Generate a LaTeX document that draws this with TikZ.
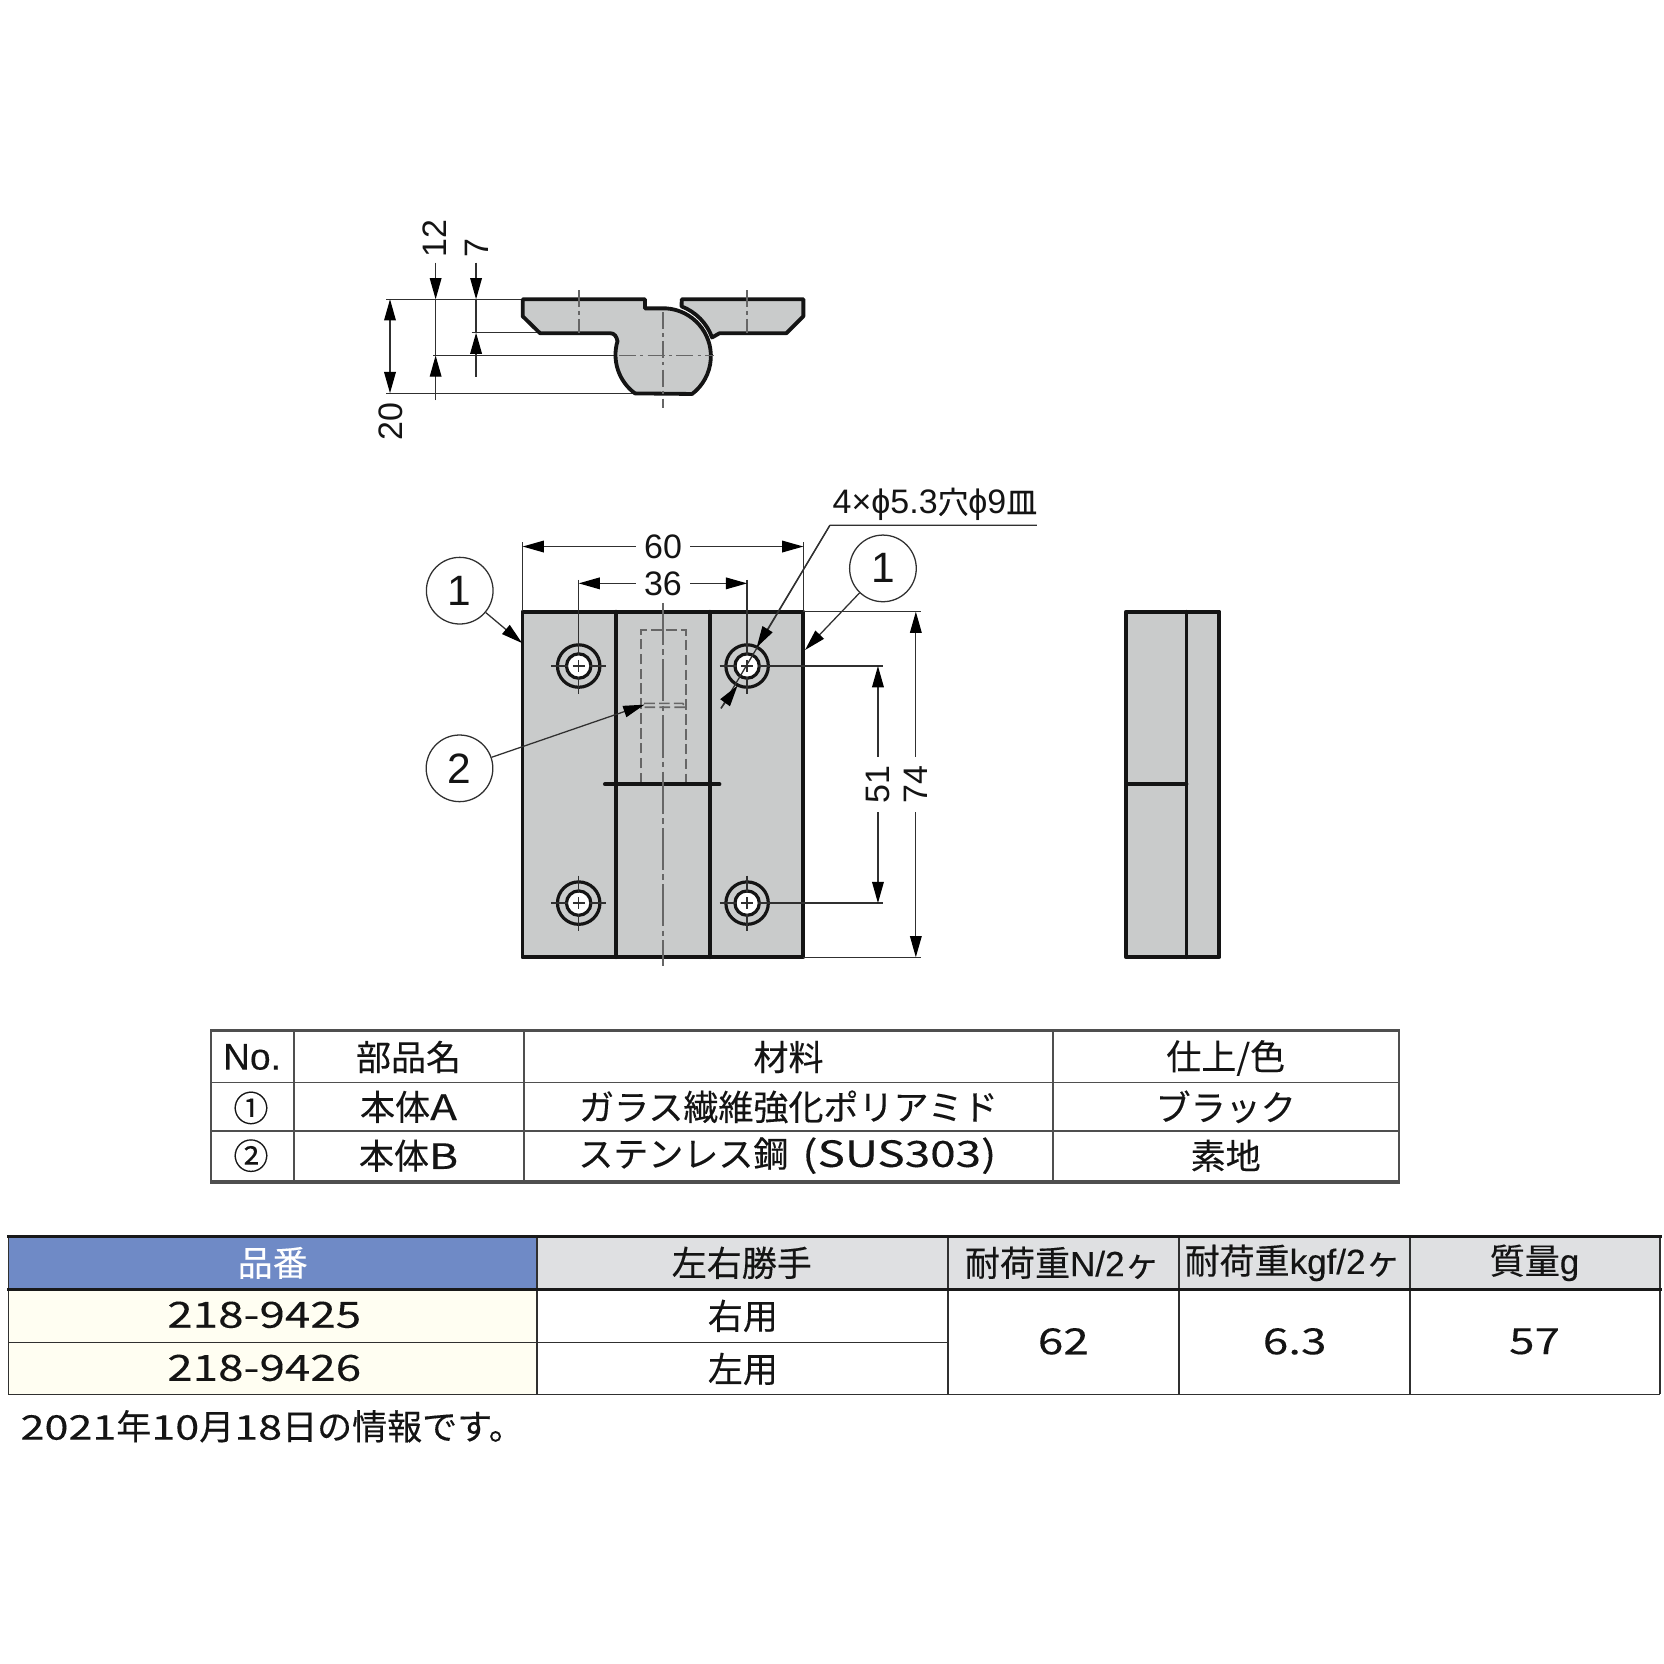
\documentclass[tikz,border=0pt]{standalone}
\usepackage{fontspec}
\usetikzlibrary{arrows.meta}
\setmainfont[FakeBold=0.25]{Noto Sans CJK JP}
\newfontfamily\lat{Liberation Sans}
\newfontfamily\latb[FakeBold=0.25]{Liberation Sans}
\newfontfamily\widelat[FakeStretch=1.27,FakeBold=0.15]{Noto Sans CJK JP}
\definecolor{partgray}{HTML}{C9CBCB}
\definecolor{ink}{HTML}{141414}
\definecolor{thinline}{HTML}{303030}
\definecolor{cline}{HTML}{666666}
\definecolor{hdrblue}{HTML}{6F8AC6}
\definecolor{hdrgray}{HTML}{DFE0E2}
\definecolor{cream}{HTML}{FFFEF2}
\tikzset{
  x=0.5pt,y=-0.5pt,
  part/.style={draw=ink,fill=partgray,line width=1.8pt,line join=round},
  outline/.style={draw=ink,line width=1.8pt,line cap=round},
  thinl/.style={draw=thinline,line width=0.6pt},
  centerl/.style={draw=cline,line width=0.8pt,dash pattern=on 8pt off 2pt on 1.6pt off 2pt},
  centerlong/.style={draw=cline,line width=0.9pt,dash pattern=on 20pt off 2pt on 2.5pt off 2pt},
  hidden/.style={draw=cline,line width=0.8pt,dash pattern=on 5pt off 2pt},
  tip/.style={-{Triangle[length=10pt,width=5.5pt,color=black]}},
  tips/.style={{Triangle[length=10pt,width=5.5pt,color=black]}-{Triangle[length=10pt,width=5.5pt,color=black]}},
  dimtxt/.style={font=\lat\fontsize{16pt}{18pt}\selectfont,text=ink,inner sep=3pt},
  balloon/.style={circle,draw=thinline,line width=0.6pt,minimum size=31.4pt,inner sep=0pt,fill=white,font=\lat\fontsize{20pt}{22pt}\selectfont,text=ink},
  tbl/.style={font=\fontsize{16.5pt}{18pt}\selectfont,text=ink,inner sep=0pt},
  widetbl/.style={font=\widelat\fontsize{17pt}{18pt}\selectfont,text=ink,inner sep=0pt},
  grid1/.style={draw=thinline!85,line width=0.9pt},
  heavy1/.style={draw=thinline!85,line width=1.8pt},
  grid2/.style={draw=thinline,line width=0.9pt},
  heavy2/.style={draw=black!90,line width=1.7pt},
}
\newcommand{\widenum}[1]{{\widelat\fontsize{16pt}{18pt}\selectfont #1}}
\begin{document}
\begin{tikzpicture}
\useasboundingbox[fill=white] (0,0) rectangle (1568,1568);

% ---------- top section view ----------
\draw[thinl] (364,282) -- (492.5,282);
\draw[thinl] (444.5,313.5) -- (508,313.5);
\draw[thinl] (408.4,335) -- (582,335);
\draw[thinl] (364,370.5) -- (598.4,370.5);
\coordinate (d20a) at (367.5,282); \coordinate (d20b) at (367.5,370.5);
\draw[thinl,tips] (d20a) -- (d20b);
\node[dimtxt,rotate=90] (l20) at (368,397) {20};
\coordinate (d12a) at (410.5,282); \coordinate (d12b) at (410.5,335);
\draw[thinl,tip] (410.5,247.5) -- (d12a);
\draw[thinl] (d12a) -- (d12b);
\draw[thinl,tip] (410.5,377) -- (d12b);
\node[dimtxt,rotate=90] (l12) at (410,225) {12};
\coordinate (d7a) at (448.6,282); \coordinate (d7b) at (448.6,313.5);
\draw[thinl,tip] (448.6,247.5) -- (d7a);
\draw[thinl] (d7a) -- (d7b);
\draw[thinl,tip] (448.6,355) -- (d7b);
\node[dimtxt,rotate=90] (l7) at (449,234) {7};

\path[part] (642.4,282) -- (757,282) -- (757,298) -- (741,314) -- (678,314) -- (671,318)
  arc[start angle=20,delta angle=49,radius=24.75pt] -- cycle;
\path[part] (492.5,282) -- (607.8,282) -- (607.8,290.6) -- (628,290.6)
  arc[start angle=86,delta angle=-138.6,radius=22.5pt] -- (598.4,370.7)
  arc[start angle=233.8,delta angle=-70.4,radius=22.5pt]
  .. controls (581,317) and (579,314) .. (575,314) -- (508.9,314) -- (492.5,298) -- cycle;
\draw[centerl] (624.5,294) -- (624.5,384);
\draw[centerl] (583,335) -- (673,335);
\draw[centerl] (545.6,273.3) -- (545.6,314);
\draw[centerl] (703.6,273.3) -- (703.6,314);

% ---------- front view ----------
\path[part] (492.3,576.4) rectangle (757,902);
\draw[outline] (580.3,576.4) -- (580.3,902);
\draw[outline] (668.7,576.4) -- (668.7,902);
\draw[hidden] (603.8,738) -- (603.8,593.7) -- (646.3,593.7) -- (646.3,738);
\draw[hidden] (607,662.8) -- (643.3,662.8) -- (646.3,666.5) -- (607,666.5);
\draw[outline] (570,739) -- (678,739);
\draw[centerlong] (624.9,568) -- (624.9,910);

\foreach \hx/\hy in {545.3/627.6,704/627.6,545.3/851,704/851}{
  \draw[ink,line width=1.5pt,fill=partgray] (\hx,\hy) circle[radius=10pt];
  \draw[ink,line width=1.5pt,fill=white] (\hx,\hy) circle[radius=5.75pt];
  \draw[thinl] (\hx-26,\hy) -- (\hx-10,\hy) (\hx+10,\hy) -- (\hx+26,\hy)
               (\hx,\hy-26) -- (\hx,\hy-10) (\hx,\hy+10) -- (\hx,\hy+26)
               (\hx-5.5,\hy) -- (\hx+5.5,\hy) (\hx,\hy-5.5) -- (\hx,\hy+5.5);
}

% dimensions on the front view
\draw[thinl] (492.5,576) -- (492.5,510.5);
\draw[thinl] (757,576) -- (757,510.5);
\coordinate (d60a) at (492.5,515); \coordinate (d60b) at (757,515);
\draw[thinl,tips] (d60a) -- node[dimtxt,fill=white,inner xsep=4pt] (l60) {60} (d60b);
\draw[thinl] (545.3,546.5) -- (545.3,606);
\draw[thinl] (704,546.5) -- (704,606);
\coordinate (d36a) at (545.3,549.7); \coordinate (d36b) at (704,549.7);
\draw[thinl,tips] (d36a) -- node[dimtxt,fill=white,inner xsep=4pt] (l36) {36} (d36b);
\draw[thinl] (757,576.4) -- (868,576.4);
\draw[thinl] (757,902) -- (868,902);
\coordinate (d74a) at (863,576.4); \coordinate (d74b) at (863,902);
\draw[thinl,tips] (d74a) -- node[dimtxt,fill=white,rotate=90,inner xsep=4pt] (l74) {74} (d74b);
\draw[thinl] (725,627.6) -- (832,627.6);
\draw[thinl] (725,851) -- (832,851);
\coordinate (d51a) at (827.3,627.6); \coordinate (d51b) at (827.3,851);
\draw[thinl,tips] (d51a) -- node[dimtxt,fill=white,rotate=90,inner xsep=4pt] (l51) {51} (d51b);

% leader with hole callout
\node[font=\lat\fontsize{16pt}{18pt}\selectfont,text=ink,inner sep=0pt] (hole) at (881,475) {4×ϕ5.3{\rmfamily\fontsize{14.5pt}{16pt}\selectfont 穴}ϕ9{\rmfamily\fontsize{14.5pt}{16pt}\selectfont 皿}};
\coordinate (ldr0) at (977,495);
\coordinate (ldr1) at (782,495);
\coordinate (ldrt) at (713,610);
\coordinate (ldrb) at (695,646);
\coordinate (ldre) at (679.4,667.5);
\draw[thinl,line join=round] (ldr0) -- (ldr1) -- (ldre);
\draw[thinl,tip] (ldr1) -- (ldrt);
\draw[thinl,tip] (ldre) -- (ldrb);

% balloons
\node[balloon] (b1l) at (433.2,556.6) {1};
\node[balloon] (b1r) at (832,535.6) {1};
\node[balloon] (b2) at (433,724) {2};
\coordinate (a1l) at (492,606);
\coordinate (a1r) at (758.6,612.5);
\coordinate (a2) at (607.3,664);
\draw[thinl,tip] (b1l) -- (a1l);
\draw[thinl,tip] (b1r) -- (a1r);
\draw[thinl,tip] (b2) -- (a2);

% ---------- side view ----------
\path[part] (1061,576.4) rectangle (1149,902);
\draw[outline] (1118,576.4) -- (1118,902);
\draw[outline] (1061,739) -- (1118,739);

% ---------- parts table ----------
\draw[grid1] (199,1020) -- (1318,1020) (199,1066) -- (1318,1066);
\draw[grid1] (199,971) -- (199,1114) (277,971) -- (277,1114) (494,971) -- (494,1114)
             (992,971) -- (992,1114) (1318,971) -- (1318,1114);
\draw[heavy1] (198,971) -- (1319,971) (198,1114) -- (1319,1114);
\node[tbl] (p00) at (237.5,996) {\latb\fontsize{17.5pt}{18pt}\selectfont No.};
\node[tbl] (p01) at (385,996) {部品名};
\node[tbl] (p02) at (743,996) {材料};
\node[tbl] (p03) at (1155,997) {仕上/色};
\node[tbl] (p10) at (236.5,1044) {①};
\node[tbl] (p11) at (385,1043) {本体{\widelat A}};
\node[tbl] (p12) at (743,1043) {ガラス繊維強化ポリアミド};
\node[tbl] (p13) at (1155,1043) {ブラック};
\node[tbl] (p20) at (236.5,1089) {②};
\node[tbl] (p21) at (385,1089) {本体{\widelat B}};
\node[tbl] (p22) at (742,1089) {ステンレス鋼 \,{\widelat\fontsize{17pt}{18pt}\selectfont (SUS303)}};
\node[tbl] (p23) at (1155,1089) {素地};

% ---------- product table ----------
\fill[hdrblue] (8,1165) rectangle (506,1215);
\fill[hdrgray] (506,1165) rectangle (1564,1215);
\fill[cream] (8,1215) rectangle (506,1314);
\draw[grid2] (8,1265) -- (893,1265) (8,1314) -- (1564,1314);
\draw[grid2] (8,1165) -- (8,1314) (506,1165) -- (506,1314) (893,1165) -- (893,1314)
             (1111,1165) -- (1111,1314) (1329,1165) -- (1329,1314) (1564,1165) -- (1564,1314);
\draw[heavy2] (7,1165) -- (1566,1165) (7,1215) -- (1566,1215);
\node[tbl,text=white] (h0) at (257,1190) {品番};
\node[tbl] (h1) at (699,1190) {左右勝手};
\node[tbl] (h2) at (1001,1190) {耐荷重{\latb N/2}ヶ};
\node[tbl] (h3) at (1218,1190) {耐荷重{\latb kgf/2}ヶ};
\node[tbl] (h4) at (1446,1190) {質量{\latb g}};
\node[widetbl] (r10) at (249,1239) {218-9425};
\node[widetbl] (r20) at (249,1289) {218-9426};
\node[tbl] (r11) at (700,1240) {右用};
\node[tbl] (r21) at (700,1290) {左用};
\node[widetbl] (v1) at (1002,1264) {62};
\node[widetbl] (v2) at (1220,1264) {6.3};
\node[widetbl] (v3) at (1446,1264) {57};
\node[tbl,anchor=west] (note) at (19,1344) {\widenum{2021}年\widenum{10}月\widenum{18}日の情報です。};
\end{tikzpicture}
\end{document}
